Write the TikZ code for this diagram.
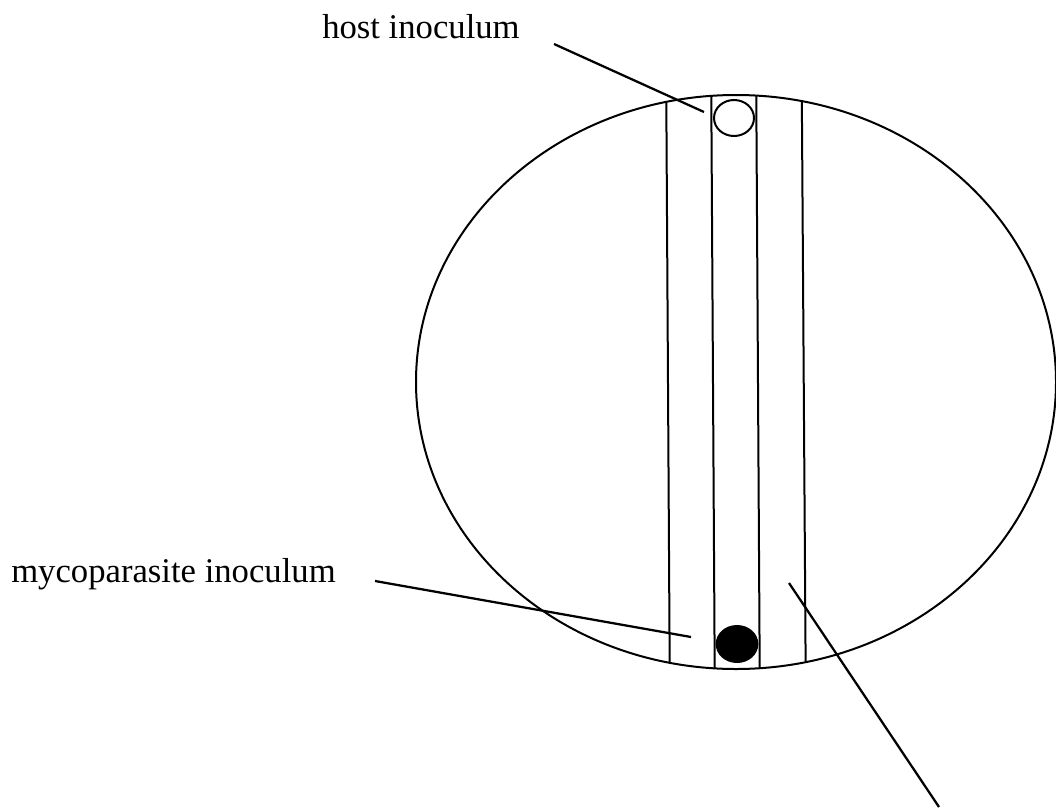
\documentclass[tikz,border=0pt]{standalone}
\usepackage{fontspec}
\setmainfont{Liberation Serif}
\begin{document}
\begin{tikzpicture}[x=0.75pt,y=-0.75pt,
  outline/.style={line width=1.5pt},
  leader/.style={line width=1.7pt},
  lbl/.style={font=\fontsize{26}{30}\selectfont, inner sep=0pt, anchor=base west}]
\useasboundingbox (0,0) rectangle (1056,807);
% agar strips inside the plate
\begin{scope}
  \clip (736,382) ellipse [x radius=240pt, y radius=215.25pt];
  \foreach \a/\b in {666/670, 711/715, 756/760, 801.5/806}
    \draw[outline] (\a,50) -- (\b,720);
\end{scope}
% plate
\draw[outline] (736,382) ellipse [x radius=240pt, y radius=215.25pt];
% inocula
\draw[outline] (734,118) ellipse [x radius=15pt, y radius=13.5pt];
\fill (737,644) ellipse [x radius=16pt, y radius=14.25pt];
% labels
\node[lbl] (hostlbl) at (322,38) {host inoculum};
\node[lbl] (mycolbl) at (11,582) {mycoparasite inoculum};
% leader lines
\coordinate (hs) at (554,44);
\coordinate (he) at (704,112);
\coordinate (ms) at (375,581);
\coordinate (me) at (691,637);
\coordinate (ss) at (789,583);
\coordinate (se) at (939,807);
\draw[leader] (hs) -- (he);
\draw[leader] (ms) -- (me);
\draw[leader] (ss) -- (se);
\end{tikzpicture}
\end{document}
